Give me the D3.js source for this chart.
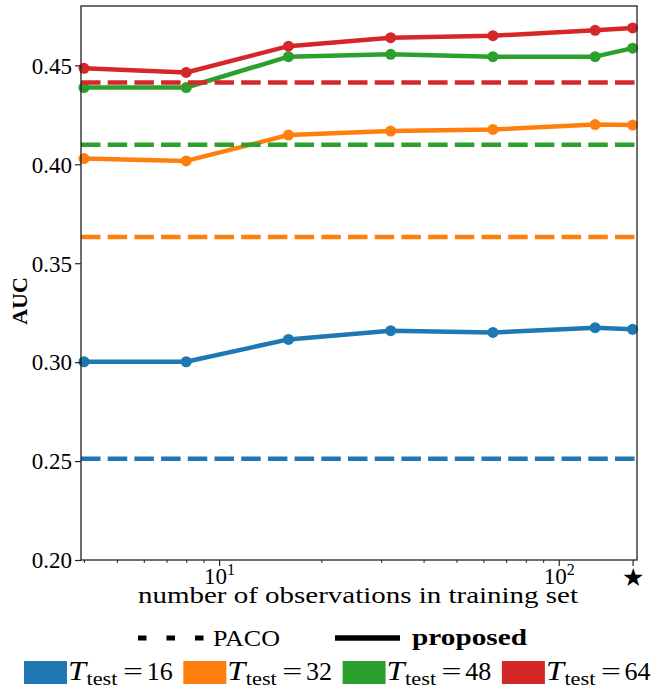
<!DOCTYPE html>
<html>
<head>
<meta charset="utf-8">
<script src="https://cdn.jsdelivr.net/npm/d3@7"></script>
<style>
  html, body { margin: 0; padding: 0; background: #fff; }
  svg { display: block; }
</style>
</head>
<body>
<svg id="chart" width="654" height="689"></svg>
<script>
// ---- data ----
const xObs = [4, 8, 16, 32, 64, 128, 165];          // last point = "all" (star tick)
const seriesNames = ["16", "32", "48", "64"];
const colors = ["#1f77b4", "#ff7f0e", "#2ca02c", "#d62728"];
const proposed16 = [0.3002, 0.3002, 0.3115, 0.3159, 0.3150, 0.3174, 0.3166];
const proposed32 = [0.4029, 0.4017, 0.4148, 0.4168, 0.4176, 0.4201, 0.4198];
const proposed48 = [0.4388, 0.4388, 0.4544, 0.4556, 0.4544, 0.4544, 0.4587];
const proposed64 = [0.4485, 0.4464, 0.4597, 0.4640, 0.4650, 0.4677, 0.4689];
const pacoValues = [0.2512, 0.3633, 0.4099, 0.4413];
const yTicks = [0.20, 0.25, 0.30, 0.35, 0.40, 0.45];
const xMajorTicks = [10, 100, 165];
const xMinorTicks = [4, 5, 6, 7, 8, 9, 20, 30, 40, 50, 60, 70, 80, 90];
const xDomain = [3.92, 170];
const yDomain = [0.20, 0.48];

const proposed = [proposed16, proposed32, proposed48, proposed64];

// ---- layout ----
const SERIF = "Liberation Serif, Times New Roman, serif";
const L = 81, R = 637, T = 6, B = 560;
const svg = d3.select("#chart");
const x = d3.scaleLog().domain(xDomain).range([L, R]);
const y = d3.scaleLinear().domain(yDomain).range([B, T]);
const axisColor = "#222";

const plot = svg.append("g");

// lines
const line = d3.line().x((d, i) => x(xObs[i])).y(d => y(d));
proposed.forEach((vals, k) => {
  plot.append("line")
    .attr("x1", L).attr("x2", R)
    .attr("y1", y(pacoValues[k])).attr("y2", y(pacoValues[k]))
    .attr("stroke", colors[k]).attr("stroke-width", 4.5)
    .attr("stroke-dasharray", "19.5 7.2");
  plot.append("path").datum(vals)
    .attr("d", line).attr("fill", "none")
    .attr("stroke", colors[k]).attr("stroke-width", 4.5)
    .attr("stroke-linejoin", "round");
  plot.selectAll(null).data(vals).enter().append("circle")
    .attr("cx", (d, i) => x(xObs[i])).attr("cy", d => y(d))
    .attr("r", 5.5).attr("fill", colors[k]);
});

// frame
svg.append("rect").attr("x", L).attr("y", T).attr("width", R - L).attr("height", B - T)
  .attr("fill", "none").attr("stroke", axisColor).attr("stroke-width", 1.3);

// y axis
const yAxis = svg.append("g").attr("transform", `translate(${L},0)`)
  .call(d3.axisLeft(y).tickValues(yTicks).tickFormat(d3.format(".2f")).tickSize(6).tickPadding(3));
yAxis.attr("font-family", SERIF);
yAxis.select(".domain").remove();
yAxis.selectAll(".tick line").attr("stroke", axisColor).attr("stroke-width", 1.2);
yAxis.selectAll(".tick text").attr("font-size", 23).attr("font-family", SERIF)
  .attr("fill", "#000").attr("dy", "0.34em");

// x axis minor
const xMinor = svg.append("g").attr("transform", `translate(0,${B})`)
  .call(d3.axisBottom(x).tickValues(xMinorTicks).tickSize(3).tickFormat(""));
xMinor.select(".domain").remove();
xMinor.selectAll(".tick line").attr("stroke", axisColor).attr("stroke-width", 1);

// x axis major
const xMajor = svg.append("g").attr("transform", `translate(0,${B})`)
  .call(d3.axisBottom(x).tickValues(xMajorTicks).tickSize(6).tickFormat(""));
xMajor.select(".domain").remove();
xMajor.selectAll(".tick line").attr("stroke", axisColor).attr("stroke-width", 1.2);
xMajor.selectAll(".tick").each(function(d) {
  const g = d3.select(this);
  if (d === 165) {
    g.append("text").attr("y", 26).attr("text-anchor", "middle").attr("fill", "#000")
      .attr("font-family", "DejaVu Sans").attr("font-size", 25).text("★");
  } else {
    const t = g.append("text").attr("y", 24).attr("text-anchor", "middle").attr("fill", "#000")
      .attr("font-family", SERIF).attr("font-size", 23);
    t.append("tspan").text("10");
    t.append("tspan").attr("font-size", 16).attr("dy", -9).text(String(Math.round(Math.log10(d))));
  }
});

// axis labels
svg.append("text").attr("x", 358).attr("y", 603).attr("text-anchor", "middle")
  .attr("font-family", SERIF).attr("font-size", 23.5)
  .attr("textLength", 440).attr("lengthAdjust", "spacingAndGlyphs")
  .text("number of observations in training set");
svg.append("text").attr("transform", "translate(27,301) rotate(-90)").attr("text-anchor", "middle")
  .attr("font-family", SERIF).attr("font-size", 22).attr("font-weight", "bold").text("AUC");

// legend row 1 (line styles)
svg.append("line").attr("x1", 138).attr("x2", 204).attr("y1", 638).attr("y2", 638)
  .attr("stroke", "#000").attr("stroke-width", 5).attr("stroke-dasharray", "8.5 20");
svg.append("text").attr("x", 213).attr("y", 645.5).attr("font-family", SERIF).attr("font-size", 24)
  .attr("textLength", 67).attr("lengthAdjust", "spacingAndGlyphs").text("PACO");
svg.append("line").attr("x1", 335).attr("x2", 400).attr("y1", 638).attr("y2", 638)
  .attr("stroke", "#000").attr("stroke-width", 5.5);
svg.append("text").attr("x", 412).attr("y", 644.5).attr("font-family", SERIF).attr("font-size", 24)
  .attr("font-weight", "bold")
  .attr("textLength", 115).attr("lengthAdjust", "spacingAndGlyphs").text("proposed");

// legend row 2 (colors)
const legendStep = 159.3;
seriesNames.forEach((name, k) => {
  const px = 24 + k * legendStep;
  const g = svg.append("g").attr("transform", `translate(${px},0)`).attr("font-family", SERIF);
  g.append("rect").attr("x", 0).attr("y", 661).attr("width", 43).attr("height", 23).attr("fill", colors[k]);
  g.append("text").attr("x", 44).attr("y", 680).attr("font-size", 27).attr("font-style", "italic")
    .attr("textLength", 18).attr("lengthAdjust", "spacingAndGlyphs").text("T");
  g.append("text").attr("x", 62.5).attr("y", 685).attr("font-size", 18.5)
    .attr("textLength", 31).attr("lengthAdjust", "spacingAndGlyphs").text("test");
  g.append("text").attr("x", 99).attr("y", 680).attr("font-size", 26)
    .attr("textLength", 20).attr("lengthAdjust", "spacingAndGlyphs").text("=");
  g.append("text").attr("x", 122.7).attr("y", 680).attr("font-size", 26).text(name);
});
</script>
</body>
</html>
